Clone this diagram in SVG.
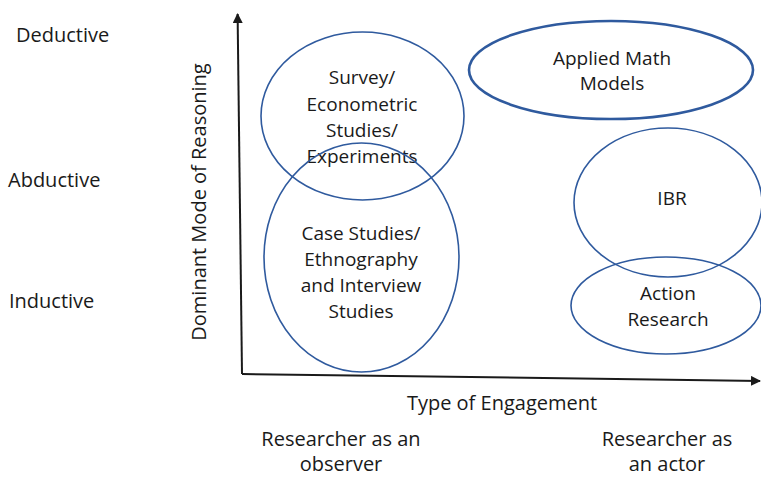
<svg xmlns="http://www.w3.org/2000/svg" width="761" height="477" viewBox="0 0 761 477">
  <style>
    text { font-family: "Open Sans", "Liberation Sans", sans-serif; font-size: 19px; fill: #1a1a1a; }
    .c { text-anchor: middle; }
    .lbl { font-size: 20px; }
    .zone { fill: none; stroke: #2f5a9e; stroke-width: 1.6; }
    .zone.bold { stroke-width: 2.6; }
    .axis { fill: none; stroke: #1a1a1a; stroke-width: 2; }
  </style>
  <defs>
    <marker id="head" viewBox="0 0 10 10" refX="9" refY="5" markerWidth="5" markerHeight="5" markerUnits="strokeWidth" orient="auto">
      <path d="M0,0 L10,5 L0,10 Z" fill="#1a1a1a"/>
    </marker>
  </defs>
  <rect width="761" height="477" fill="#ffffff"/>

  <!-- axes -->
  <g id="connectors">
    <path class="axis" d="M242,374 L237.6,14" marker-end="url(#head)"/>
    <path class="axis" d="M242,374 L760,381" marker-end="url(#head)"/>
  </g>

  <!-- axis labels -->
  <g id="y-labels">
    <text class="lbl" x="16" y="42">Deductive</text>
    <text class="lbl" x="8" y="187">Abductive</text>
    <text class="lbl" x="9" y="308">Inductive</text>
    <text class="lbl c" transform="translate(206,202) rotate(-90)">Dominant Mode of Reasoning</text>
  </g>
  <g id="x-labels">
    <text class="lbl c" x="502" y="410">Type of Engagement</text>
    <text class="lbl c" x="341" y="446">Researcher as an</text>
    <text class="lbl c" x="341" y="471">observer</text>
    <text class="lbl c" x="667" y="446">Researcher as</text>
    <text class="lbl c" x="667" y="471">an actor</text>
  </g>

  <!-- research approaches -->
  <g id="survey">
    <ellipse class="zone" cx="362.5" cy="116" rx="101.5" ry="84"/>
    <text class="c" x="362" y="84">Survey/</text>
    <text class="c" x="362" y="111">Econometric</text>
    <text class="c" x="362" y="137">Studies/</text>
    <text class="c" x="362" y="163">Experiments</text>
  </g>
  <g id="case-studies">
    <ellipse class="zone" cx="361.5" cy="257.5" rx="97.5" ry="114.5"/>
    <text class="c" x="361" y="240">Case Studies/</text>
    <text class="c" x="361" y="266">Ethnography</text>
    <text class="c" x="361" y="292">and Interview</text>
    <text class="c" x="361" y="318">Studies</text>
  </g>
  <g id="applied-math">
    <ellipse class="zone bold" cx="611" cy="70" rx="142" ry="49"/>
    <text class="c" x="612" y="65">Applied Math</text>
    <text class="c" x="612" y="90">Models</text>
  </g>
  <g id="ibr">
    <ellipse class="zone" cx="668" cy="202.5" rx="94" ry="74.5"/>
    <text class="c" x="672" y="205">IBR</text>
  </g>
  <g id="action-research">
    <ellipse class="zone" cx="666" cy="305.5" rx="95" ry="48.5"/>
    <text class="c" x="668" y="300">Action</text>
    <text class="c" x="668" y="326">Research</text>
  </g>
</svg>
